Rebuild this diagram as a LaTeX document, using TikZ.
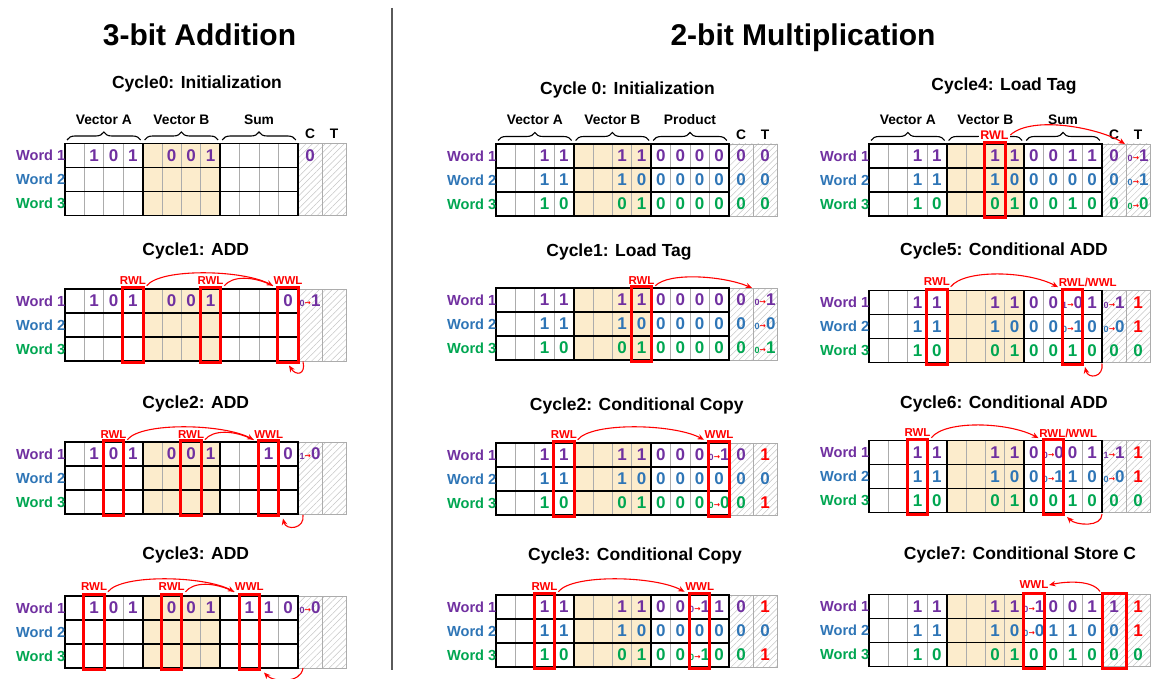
\documentclass[tikz,border=0pt]{standalone}
\usepackage{fontspec}
\setmainfont{Liberation Sans}
\newfontfamily\arrowfont{DejaVu Sans}
\usetikzlibrary{arrows.meta,patterns.meta,decorations.pathreplacing}

\definecolor{cpu}{RGB}{112,48,160}
\definecolor{cbl}{RGB}{46,117,182}
\definecolor{cgr}{RGB}{0,166,81}
\definecolor{vbfill}{RGB}{252,236,204}
\definecolor{divgray}{RGB}{90,90,90}

\tikzset{
  val/.style={font=\bfseries\fontsize{17}{17}\selectfont, inner sep=0pt},
  wordlbl/.style={font=\bfseries\fontsize{14.6}{14.6}\selectfont, inner sep=0pt, anchor=east},
  ctitle/.style={font=\bfseries\fontsize{17.5}{17.5}\selectfont, anchor=base, inner sep=0pt},
  mtitle/.style={font=\bfseries\fontsize{30}{30}\selectfont, anchor=base, inner sep=0pt},
  grplbl/.style={font=\bfseries\fontsize{13.8}{13.8}\selectfont, inner sep=0pt},
  wl/.style={text=red, font=\bfseries\fontsize{11.5}{11.5}\selectfont, inner sep=0.6pt},
  rbox/.style={draw=red, line width=3pt},
  rarr/.style={draw=red, line width=1.1pt, -{Stealth[length=6.5pt,width=5.5pt]}},
  rline/.style={draw=red, line width=1.1pt},
  thinln/.style={draw=gray!65, line width=0.7pt},
  thickln/.style={draw=black, line width=1.8pt, line cap=rect},
  hatch/.style={pattern={Lines[angle=45,distance=4.5pt,line width=0.5pt]}, pattern color=gray!45},
  brc/.style={decorate, decoration={brace, amplitude=8pt}, line width=1.1pt},
  divline/.style={draw=divgray, line width=1.4pt}
}

% small "old -> new" value change inside a cell
\newcommand\tr[2]{{\fontsize{9}{9}\selectfont#1}\kern0.2pt\raisebox{1pt}{\color{red}\arrowfont\bfseries\fontsize{7.5}{7.5}\selectfont →}\kern0pt#2}
\newcommand\rd[1]{\textcolor{red}{#1}}

% the 3-word memory array: 12 bit cells, then C and T columns
\newcommand\grid{%
  \fill[vbfill] (77.6,0) rectangle (155.2,72);
  \fill[white] (233,0) rectangle (281,72);
  \fill[hatch] (233,0) rectangle (281,72);
  \foreach \i in {1,2,3,5,6,7,9,10,11} \draw[thinln] ({19.4*\i},0) -- ({19.4*\i},72);
  \draw[thinln] (233,0) rectangle (281,72) (257,0) -- (257,72);
  \foreach \j in {24,48} \draw[thickln] (0,\j) -- (232.8,\j);
  \foreach \i in {4,8} \draw[thickln] ({19.4*\i},0) -- ({19.4*\i},72);
  \draw[thickln] (0,0) rectangle (232.8,72);
}
\newcommand\braces[1]{%
  \foreach \g/\gt in {0/Vector A,1/Vector B,2/#1}{%
    \draw[brc] ({77.6*\g+2},-3.5) -- ({77.6*\g+75.6},-3.5);
    \node[grplbl] (g\g) at ({77.6*\g+38.8},-24) {\gt};}
  \node[grplbl] (lc) at (245,-9.5) {C};
  \node[grplbl] (lt) at (269,-9.5) {T};
}
\newcommand\words{%
  \node[wordlbl,text=cpu] (w1) at (0.5,12) {Word 1};
  \node[wordlbl,text=cbl] (w2) at (0.5,36) {Word 2};
  \node[wordlbl,text=cgr] (w3) at (0.5,60) {Word 3};}
% row, colour, list of column/value
\newcommand\putrow[3]{%
  \foreach \ci/\tv in {#3}{%
    \ifnum\ci<12\relax\pgfmathsetmacro\xx{19.4*\ci+9.7}\else\pgfmathsetmacro\xx{24*\ci-43}\fi
    \node[val,text=#2] (v\ci-#1) at (\xx,{24*#1+12}) {\tv};}}
\newcommand\redcol[1]{\draw[rbox] ({19.4*#1-0.5},-1.5) rectangle ({19.4*#1+19.9},73.5);}

\begin{document}
\begin{tikzpicture}[x=1pt,y=-1pt]
\useasboundingbox (0,0) rectangle (1155,679);

\node[mtitle] (tadd) at (199.5,45.7) {3-bit Addition};
\node[mtitle] (tmul) at (803,45.7) {2-bit Multiplication};
\draw[divline] (392,8) -- (392,670);

% ---------------- 3-bit addition ----------------
\node[ctitle] (lt0) at (197,89) {Cycle0: Initialization};
\begin{scope}[shift={(65,143.5)},name prefix=L0-]
  \grid\braces{Sum}\words
  \putrow{0}{cpu}{1/1,2/0,3/1,5/0,6/0,7/1,12/0}
\end{scope}

\node[ctitle] (lt1) at (195.8,255.7) {Cycle1: ADD};
\begin{scope}[shift={(65,289)},name prefix=L1-]
  \grid\words
  \putrow{0}{cpu}{1/1,2/0,3/1,5/0,6/0,7/1,11/0,12/\tr{0}{1}}
  \redcol{3}\redcol{7}\redcol{11}
  \node[wl] (ra) at (67.9,-8) {RWL};
  \node[wl] (rb) at (145.5,-8) {RWL};
  \node[wl] (wa) at (223.1,-8) {WWL};
  \draw[rarr] (ra.south east) .. controls +(14,-18) and +(-30,-16) .. (wa.south west);
  \draw[rline] (rb.south east) .. controls +(8,-10) and +(-20,-10) .. (wa.south west);
  \coordinate (cs) at (238,72.5);
  \coordinate (ce) at (224,76.5);
  \draw[rarr] (cs) .. controls (241,86) and (231,87) .. (ce);
\end{scope}

\node[ctitle] (lt2) at (195.8,408.3) {Cycle2: ADD};
\begin{scope}[shift={(65,442)},name prefix=L2-]
  \grid\words
  \putrow{0}{cpu}{1/1,2/0,3/1,5/0,6/0,7/1,10/1,11/0,12/\tr{1}{0}}
  \redcol{2}\redcol{6}\redcol{10}
  \node[wl] (ra) at (48.5,-7) {RWL};
  \node[wl] (rb) at (126.1,-7) {RWL};
  \node[wl] (wa) at (203.7,-7) {WWL};
  \draw[rarr] (ra.south east) .. controls +(14,-18) and +(-30,-16) .. (wa.south west);
  \draw[rline] (rb.south east) .. controls +(8,-10) and +(-20,-10) .. (wa.south west);
  \coordinate (cs) at (238,73);
  \coordinate (ce) at (218,76.5);
  \draw[rarr] (cs) .. controls (240,87) and (221,89) .. (ce);
\end{scope}

\node[ctitle] (lt3) at (195.8,559.3) {Cycle3: ADD};
\begin{scope}[shift={(65,596)},name prefix=L3-]
  \grid\words
  \putrow{0}{cpu}{1/1,2/0,3/1,5/0,6/0,7/1,9/1,10/1,11/0,12/\tr{0}{0}}
  \redcol{1}\redcol{5}\redcol{9}
  \node[wl] (ra) at (29.1,-9) {RWL};
  \node[wl] (rb) at (106.7,-9) {RWL};
  \node[wl] (wa) at (184.3,-9) {WWL};
  \draw[rarr] (ra.south east) .. controls +(14,-18) and +(-30,-16) .. (wa.south west);
  \draw[rline] (rb.south east) .. controls +(8,-10) and +(-20,-10) .. (wa.south west);
  \coordinate (cs) at (238,72);
  \coordinate (ce) at (199,76.5);
  \draw[rarr] (cs) .. controls (236,88) and (208,86) .. (ce);
\end{scope}

% ---------------- 2-bit multiplication ----------------
\node[ctitle] (mt0) at (627.5,95) {Cycle 0: Initialization};
\begin{scope}[shift={(496,144)},name prefix=M0-]
  \grid\braces{Product}\words
  \putrow{0}{cpu}{2/1,3/1,6/1,7/1,8/0,9/0,10/0,11/0,12/0,13/0}
  \putrow{1}{cbl}{2/1,3/1,6/1,7/0,8/0,9/0,10/0,11/0,12/0,13/0}
  \putrow{2}{cgr}{2/1,3/0,6/0,7/1,8/0,9/0,10/0,11/0,12/0,13/0}
\end{scope}

\node[ctitle] (mt1) at (619,256.7) {Cycle1: Load Tag};
\begin{scope}[shift={(496,288)},name prefix=M1-]
  \grid\words
  \putrow{0}{cpu}{2/1,3/1,6/1,7/1,8/0,9/0,10/0,11/0,12/0,13/\tr{0}{1}}
  \putrow{1}{cbl}{2/1,3/1,6/1,7/0,8/0,9/0,10/0,11/0,12/0,13/\tr{0}{0}}
  \putrow{2}{cgr}{2/1,3/0,6/0,7/1,8/0,9/0,10/0,11/0,12/0,13/\tr{0}{1}}
  \redcol{7}
  \node[wl] (ra) at (145.5,-7) {RWL};
  \coordinate (tt) at (256,0);
  \draw[rarr] (ra.south east) .. controls +(14,-14) and +(-28,-12) .. (tt);
\end{scope}

\node[ctitle] (mt2) at (636.7,410) {Cycle2: Conditional Copy};
\begin{scope}[shift={(496,443)},name prefix=M2-]
  \grid\words
  \putrow{0}{cpu}{2/1,3/1,6/1,7/1,8/0,9/0,10/0,11/\tr{0}{1},12/0,13/\rd{1}}
  \putrow{1}{cbl}{2/1,3/1,6/1,7/0,8/0,9/0,10/0,11/0,12/0,13/0}
  \putrow{2}{cgr}{2/1,3/0,6/0,7/1,8/0,9/0,10/0,11/\tr{0}{0},12/0,13/\rd{1}}
  \redcol{3}\redcol{11}
  \node[wl] (ra) at (67.9,-8) {RWL};
  \node[wl] (wa) at (223.1,-8) {WWL};
  \draw[rarr] (ra.south east) .. controls +(14,-18) and +(-30,-16) .. (wa.south west);
\end{scope}

\node[ctitle] (mt3) at (635,560) {Cycle3: Conditional Copy};
\begin{scope}[shift={(496,595)},name prefix=M3-]
  \grid\words
  \putrow{0}{cpu}{2/1,3/1,6/1,7/1,8/0,9/0,10/\tr{0}{1},11/1,12/0,13/\rd{1}}
  \putrow{1}{cbl}{2/1,3/1,6/1,7/0,8/0,9/0,10/0,11/0,12/0,13/0}
  \putrow{2}{cgr}{2/1,3/0,6/0,7/1,8/0,9/0,10/\tr{0}{1},11/0,12/0,13/\rd{1}}
  \redcol{2}\redcol{10}
  \node[wl] (ra) at (48.5,-8) {RWL};
  \node[wl] (wa) at (203.7,-8) {WWL};
  \draw[rarr] (ra.south east) .. controls +(14,-18) and +(-30,-16) .. (wa.south west);
\end{scope}

\node[ctitle] (rt4) at (1004,90.7) {Cycle4: Load Tag};
\begin{scope}[shift={(869,144)},name prefix=R4-]
  \grid\braces{Sum}\words
  \putrow{0}{cpu}{2/1,3/1,6/1,7/1,8/0,9/0,10/1,11/1,12/0,13/\tr{0}{1}}
  \putrow{1}{cbl}{2/1,3/1,6/1,7/0,8/0,9/0,10/0,11/0,12/0,13/\tr{0}{1}}
  \putrow{2}{cgr}{2/1,3/0,6/0,7/1,8/0,9/0,10/1,11/0,12/0,13/\tr{0}{0}}
  \redcol{6}
  \node[wl,fill=white,inner sep=1.5pt,font=\bfseries\fontsize{12.5}{12.5}\selectfont] (ra) at (125.5,-9) {RWL};
  \coordinate (tt) at (256,0);
  \draw[rarr] (ra.east) .. controls +(22,-20) and +(-26,-16) .. (tt);
\end{scope}

\node[ctitle] (rt5) at (1004,255.7) {Cycle5: Conditional ADD};
\begin{scope}[shift={(869,290.5)},name prefix=R5-]
  \grid\words
  \putrow{0}{cpu}{2/1,3/1,6/1,7/1,8/0,9/0,10/\tr{1}{0},11/1,12/\tr{0}{1},13/\rd{1}}
  \putrow{1}{cbl}{2/1,3/1,6/1,7/0,8/0,9/0,10/\tr{0}{1},11/0,12/\tr{0}{0},13/\rd{1}}
  \putrow{2}{cgr}{2/1,3/0,6/0,7/1,8/0,9/0,10/1,11/0,12/0,13/0}
  \redcol{3}\redcol{10}
  \node[wl] (ra) at (67.9,-8.5) {RWL};
  \node[wl,anchor=west] (wa) at (189,-8.5) {RWL/WWL};
  \draw[rarr] (ra.south east) .. controls +(14,-18) and +(-30,-16) .. (wa.south west);
  \coordinate (cs) at (233,73);
  \coordinate (ce) at (216,76.5);
  \draw[rarr] (cs) .. controls (235,87) and (219,89) .. (ce);
\end{scope}

\node[ctitle] (rt6) at (1004,408.3) {Cycle6: Conditional ADD};
\begin{scope}[shift={(869,440.5)},name prefix=R6-]
  \grid\words
  \putrow{0}{cpu}{2/1,3/1,6/1,7/1,8/0,9/\tr{0}{0},10/0,11/1,12/\tr{1}{1},13/\rd{1}}
  \putrow{1}{cbl}{2/1,3/1,6/1,7/0,8/0,9/\tr{0}{1},10/1,11/0,12/\tr{0}{0},13/\rd{1}}
  \putrow{2}{cgr}{2/1,3/0,6/0,7/1,8/0,9/0,10/1,11/0,12/0,13/0}
  \redcol{2}\redcol{9}
  \node[wl] (ra) at (48.5,-7.5) {RWL};
  \node[wl,anchor=west] (wa) at (169.5,-7.5) {RWL/WWL};
  \draw[rarr] (ra.south east) .. controls +(14,-18) and +(-30,-16) .. (wa.south west);
  \coordinate (cs) at (233,73.5);
  \coordinate (ce) at (198,76.5);
  \draw[rarr] (cs) .. controls (233,87) and (207,85) .. (ce);
\end{scope}

\node[ctitle] (rt7) at (1020,559.3) {Cycle7: Conditional Store C};
\begin{scope}[shift={(869,594.5)},name prefix=R7-]
  \grid\words
  \putrow{0}{cpu}{2/1,3/1,6/1,7/1,8/\tr{0}{1},9/0,10/0,11/1,12/1,13/\rd{1}}
  \putrow{1}{cbl}{2/1,3/1,6/1,7/0,8/\tr{0}{0},9/1,10/1,11/0,12/0,13/\rd{1}}
  \putrow{2}{cgr}{2/1,3/0,6/0,7/1,8/0,9/0,10/1,11/0,12/0,13/0}
  \redcol{8}
  \draw[rbox] (233.5,-1.5) rectangle (257.5,73.5);
  \node[wl] (wa) at (164.9,-9.5) {WWL};
  \coordinate (cs) at (231,-3);
  \draw[rarr] (cs) .. controls (223,-15) and (196,-13) .. (wa.east);
\end{scope}
\end{tikzpicture}
\end{document}
